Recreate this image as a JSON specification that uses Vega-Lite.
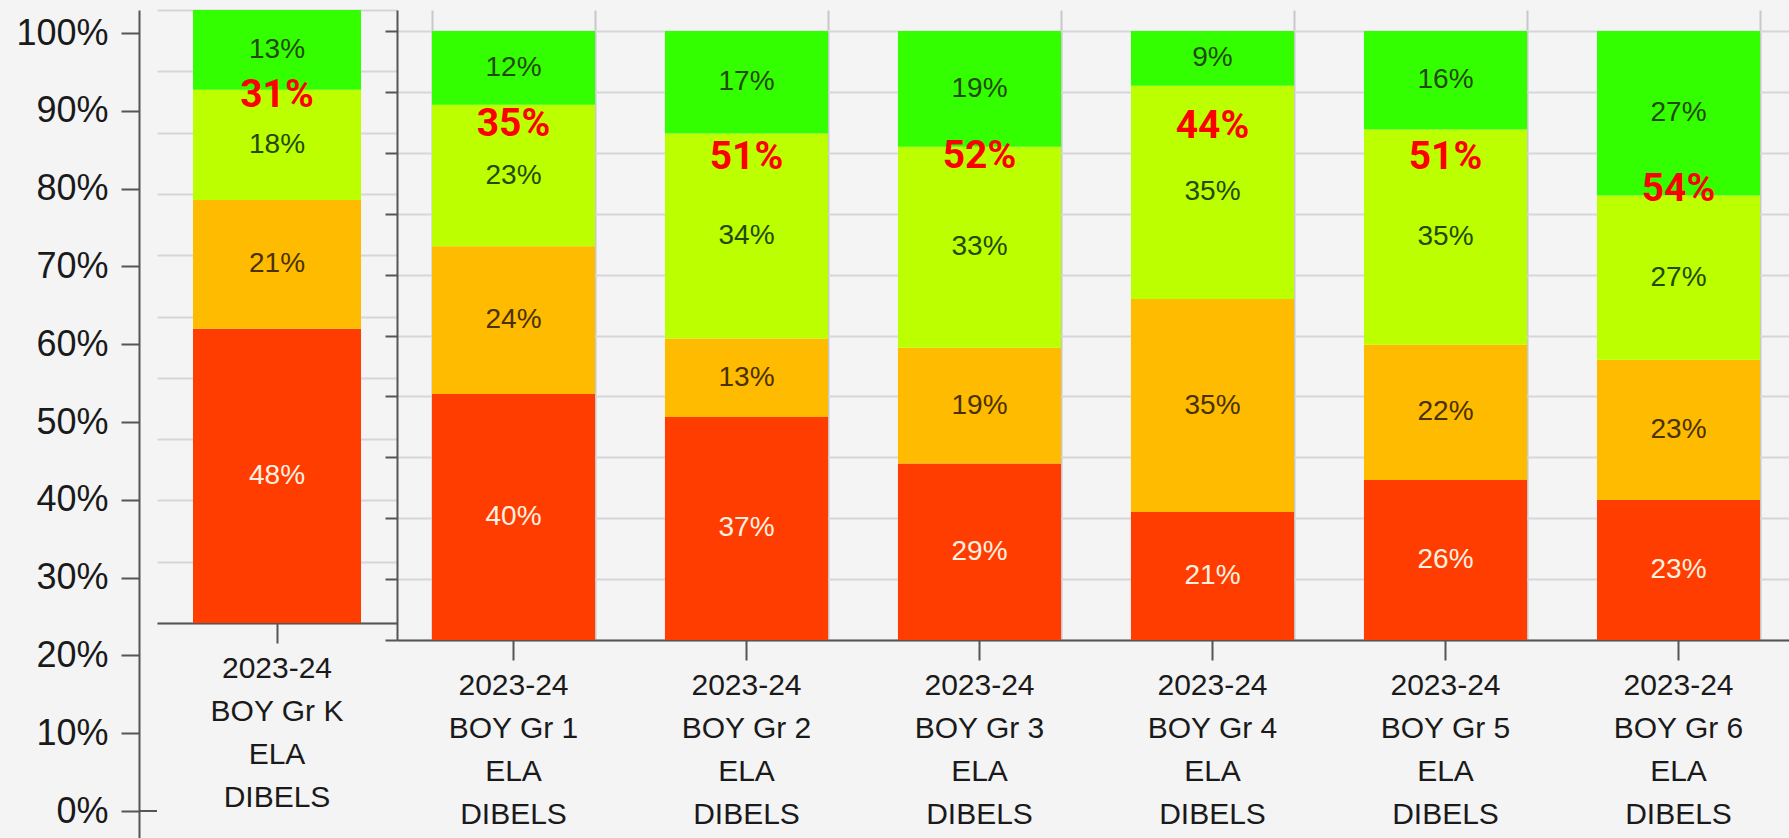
{
  "$schema": "https://vega.github.io/schema/vega-lite/v6.json",
  "background": "#f4f4f5",
  "padding": {"left": 15, "top": 10, "right": 0, "bottom": 0},
  "bounds": "flush",
  "spacing": 0,
  "config": {
    "view": {"stroke": null},
    "axis": {"labelFont": "Liberation Sans", "labelColor": "#1a1a1a", "domainColor": "#555555", "tickColor": "#555555", "domainWidth": 2, "tickWidth": 2, "title": null}
  },
  "datasets": {
    "levels": [
      {"assessment": "2023-24 BOY Gr K ELA DIBELS", "grade": "K", "level": "Well Below Benchmark", "level_order": 1, "share": 0.48},
      {"assessment": "2023-24 BOY Gr K ELA DIBELS", "grade": "K", "level": "Below Benchmark", "level_order": 2, "share": 0.21},
      {"assessment": "2023-24 BOY Gr K ELA DIBELS", "grade": "K", "level": "At Benchmark", "level_order": 3, "share": 0.18},
      {"assessment": "2023-24 BOY Gr K ELA DIBELS", "grade": "K", "level": "Above Benchmark", "level_order": 4, "share": 0.13},
      {"assessment": "2023-24 BOY Gr 1 ELA DIBELS", "grade": "1", "level": "Well Below Benchmark", "level_order": 1, "share": 0.40},
      {"assessment": "2023-24 BOY Gr 1 ELA DIBELS", "grade": "1", "level": "Below Benchmark", "level_order": 2, "share": 0.24},
      {"assessment": "2023-24 BOY Gr 1 ELA DIBELS", "grade": "1", "level": "At Benchmark", "level_order": 3, "share": 0.23},
      {"assessment": "2023-24 BOY Gr 1 ELA DIBELS", "grade": "1", "level": "Above Benchmark", "level_order": 4, "share": 0.12},
      {"assessment": "2023-24 BOY Gr 2 ELA DIBELS", "grade": "2", "level": "Well Below Benchmark", "level_order": 1, "share": 0.37},
      {"assessment": "2023-24 BOY Gr 2 ELA DIBELS", "grade": "2", "level": "Below Benchmark", "level_order": 2, "share": 0.13},
      {"assessment": "2023-24 BOY Gr 2 ELA DIBELS", "grade": "2", "level": "At Benchmark", "level_order": 3, "share": 0.34},
      {"assessment": "2023-24 BOY Gr 2 ELA DIBELS", "grade": "2", "level": "Above Benchmark", "level_order": 4, "share": 0.17},
      {"assessment": "2023-24 BOY Gr 3 ELA DIBELS", "grade": "3", "level": "Well Below Benchmark", "level_order": 1, "share": 0.29},
      {"assessment": "2023-24 BOY Gr 3 ELA DIBELS", "grade": "3", "level": "Below Benchmark", "level_order": 2, "share": 0.19},
      {"assessment": "2023-24 BOY Gr 3 ELA DIBELS", "grade": "3", "level": "At Benchmark", "level_order": 3, "share": 0.33},
      {"assessment": "2023-24 BOY Gr 3 ELA DIBELS", "grade": "3", "level": "Above Benchmark", "level_order": 4, "share": 0.19},
      {"assessment": "2023-24 BOY Gr 4 ELA DIBELS", "grade": "4", "level": "Well Below Benchmark", "level_order": 1, "share": 0.21},
      {"assessment": "2023-24 BOY Gr 4 ELA DIBELS", "grade": "4", "level": "Below Benchmark", "level_order": 2, "share": 0.35},
      {"assessment": "2023-24 BOY Gr 4 ELA DIBELS", "grade": "4", "level": "At Benchmark", "level_order": 3, "share": 0.35},
      {"assessment": "2023-24 BOY Gr 4 ELA DIBELS", "grade": "4", "level": "Above Benchmark", "level_order": 4, "share": 0.09},
      {"assessment": "2023-24 BOY Gr 5 ELA DIBELS", "grade": "5", "level": "Well Below Benchmark", "level_order": 1, "share": 0.26},
      {"assessment": "2023-24 BOY Gr 5 ELA DIBELS", "grade": "5", "level": "Below Benchmark", "level_order": 2, "share": 0.22},
      {"assessment": "2023-24 BOY Gr 5 ELA DIBELS", "grade": "5", "level": "At Benchmark", "level_order": 3, "share": 0.35},
      {"assessment": "2023-24 BOY Gr 5 ELA DIBELS", "grade": "5", "level": "Above Benchmark", "level_order": 4, "share": 0.16},
      {"assessment": "2023-24 BOY Gr 6 ELA DIBELS", "grade": "6", "level": "Well Below Benchmark", "level_order": 1, "share": 0.23},
      {"assessment": "2023-24 BOY Gr 6 ELA DIBELS", "grade": "6", "level": "Below Benchmark", "level_order": 2, "share": 0.23},
      {"assessment": "2023-24 BOY Gr 6 ELA DIBELS", "grade": "6", "level": "At Benchmark", "level_order": 3, "share": 0.27},
      {"assessment": "2023-24 BOY Gr 6 ELA DIBELS", "grade": "6", "level": "Above Benchmark", "level_order": 4, "share": 0.27}
    ],
    "totals": [
      {"assessment": "2023-24 BOY Gr K ELA DIBELS", "grade": "K", "at_or_above": 0.31, "note_y": 0.861},
      {"assessment": "2023-24 BOY Gr 1 ELA DIBELS", "grade": "1", "at_or_above": 0.35, "note_y": 0.847},
      {"assessment": "2023-24 BOY Gr 2 ELA DIBELS", "grade": "2", "at_or_above": 0.51, "note_y": 0.793},
      {"assessment": "2023-24 BOY Gr 3 ELA DIBELS", "grade": "3", "at_or_above": 0.52, "note_y": 0.795},
      {"assessment": "2023-24 BOY Gr 4 ELA DIBELS", "grade": "4", "at_or_above": 0.44, "note_y": 0.844},
      {"assessment": "2023-24 BOY Gr 5 ELA DIBELS", "grade": "5", "at_or_above": 0.51, "note_y": 0.793},
      {"assessment": "2023-24 BOY Gr 6 ELA DIBELS", "grade": "6", "at_or_above": 0.54, "note_y": 0.741}
    ]
  },
  "hconcat": [
    {
      "width": 18,
      "height": 828,
      "data": {"name": "totals"},
      "transform": [{"filter": "datum.grade == 'K'"}],
      "mark": {"type": "rule", "color": "#555555", "strokeWidth": 2},
      "encoding": {
        "y": {
          "datum": 0,
          "type": "quantitative",
          "scale": {"domain": [-0.0347, 1.0296], "nice": false, "zero": false},
          "axis": {"orient": "left", "values": [0, 0.1, 0.2, 0.3, 0.4, 0.5, 0.6, 0.7, 0.8, 0.9, 1], "format": ".0%", "labelFontSize": 36, "tickSize": 18, "labelPadding": 13, "grid": false, "title": null}
        }
      }
    },
    {
      "width": 240,
      "height": 613,
      "data": {"name": "levels"},
      "transform": [{"filter": "datum.grade == 'K'"}],
      "encoding": {
        "x": {
          "field": "assessment",
          "type": "nominal",
          "scale": {"paddingInner": 0.3, "paddingOuter": 0.15},
          "axis": {"labelAngle": 0, "labelFontSize": 30, "labelLineHeight": 43, "tickSize": 20, "labelPadding": 10, "labelExpr": "[split(datum.label,' ')[0], join(slice(split(datum.label,' '),1,4),' '), split(datum.label,' ')[4], split(datum.label,' ')[5]]"}
        }
      },
      "layer": [
        {
          "mark": {"type": "bar"},
          "encoding": {
            "y": {"field": "share", "type": "quantitative", "stack": "normalize", "scale": {"domain": [0, 1], "nice": false},
              "axis": {"values": [0, 0.1, 0.2, 0.3, 0.4, 0.5, 0.6, 0.7, 0.8, 0.9, 1], "grid": true, "gridColor": "#d6d6da", "gridWidth": 2, "labels": false, "ticks": false, "domain": false}},
            "color": {"field": "level", "type": "nominal", "legend": null,
              "scale": {"domain": ["Well Below Benchmark", "Below Benchmark", "At Benchmark", "Above Benchmark"], "range": ["#ff3d00", "#ffbb00", "#bbff00", "#33ff00"]}},
            "order": {"field": "level_order", "type": "quantitative"}
          }
        },
        {
          "mark": {"type": "text", "font": "Liberation Sans", "fontSize": 28, "baseline": "middle"},
          "encoding": {
            "y": {"field": "share", "type": "quantitative", "stack": "normalize", "bandPosition": 0.5},
            "text": {"field": "share", "type": "quantitative", "format": ".0%"},
            "order": {"field": "level_order", "type": "quantitative"},
            "color": {"condition": [
              {"test": "datum.level == 'Well Below Benchmark'", "value": "#fff1e0"},
              {"test": "datum.level == 'Below Benchmark'", "value": "#4a3200"}
            ], "value": "#234a0c"}
          }
        },
        {
          "data": {"name": "totals"},
          "transform": [{"filter": "datum.grade == 'K'"}],
          "mark": {"type": "text", "font": "Roboto", "fontWeight": "bold", "fontSize": 39, "color": "#ff0000", "baseline": "middle"},
          "encoding": {
            "y": {"field": "note_y", "type": "quantitative"},
            "text": {"field": "at_or_above", "type": "quantitative", "format": ".0%"}
          }
        }
      ]
    },
    {
      "width": 1398,
      "height": 630,
      "data": {"name": "levels"},
      "transform": [{"filter": "datum.grade != 'K'"}],
      "resolve": {"axis": {"x": "independent"}},
      "layer": [
        {
          "mark": {"type": "bar"},
          "encoding": {
            "x": {"field": "assessment", "type": "nominal",
              "scale": {"paddingInner": 0.3, "paddingOuter": 0.15},
              "axis": {"orient": "bottom", "labelAngle": 0, "labelFontSize": 30, "labelLineHeight": 43, "tickSize": 20, "labelPadding": 10, "labelExpr": "[split(datum.label,' ')[0], join(slice(split(datum.label,' '),1,4),' '), split(datum.label,' ')[4], split(datum.label,' ')[5]]"}},
            "y": {"field": "share", "type": "quantitative", "stack": "normalize", "scale": {"domain": [0, 1.0345], "nice": false},
              "axis": {"values": [0, 0.1, 0.2, 0.3, 0.4, 0.5, 0.6, 0.7, 0.8, 0.9, 1], "grid": true, "gridColor": "#d6d6da", "gridWidth": 2, "labels": false, "ticks": true, "tickSize": 12, "domain": true}},
            "color": {"field": "level", "type": "nominal", "legend": null,
              "scale": {"domain": ["Well Below Benchmark", "Below Benchmark", "At Benchmark", "Above Benchmark"], "range": ["#ff4000", "#ffbb00", "#bbff00", "#33ff00"]}},
            "order": {"field": "level_order", "type": "quantitative"}
          }
        },
        {
          "mark": {"type": "text", "font": "Liberation Sans", "fontSize": 28, "baseline": "middle"},
          "encoding": {
            "x": {"field": "assessment", "type": "nominal",
              "axis": {"orient": "bottom", "tickBand": "extent", "grid": true, "gridColor": "#c8c8cc", "gridWidth": 2, "labels": false, "ticks": false, "domain": false}},
            "y": {"field": "share", "type": "quantitative", "stack": "normalize", "bandPosition": 0.5},
            "text": {"field": "share", "type": "quantitative", "format": ".0%"},
            "order": {"field": "level_order", "type": "quantitative"},
            "color": {"condition": [
              {"test": "datum.level == 'Well Below Benchmark'", "value": "#fff1e0"},
              {"test": "datum.level == 'Below Benchmark'", "value": "#4a3200"}
            ], "value": "#234a0c"}
          }
        },
        {
          "data": {"name": "totals"},
          "transform": [{"filter": "datum.grade != 'K'"}],
          "mark": {"type": "text", "font": "Roboto", "fontWeight": "bold", "fontSize": 39, "color": "#ff0000", "baseline": "middle"},
          "encoding": {
            "x": {"field": "assessment", "type": "nominal", "axis": null},
            "y": {"field": "note_y", "type": "quantitative"},
            "text": {"field": "at_or_above", "type": "quantitative", "format": ".0%"}
          }
        }
      ]
    }
  ]
}
